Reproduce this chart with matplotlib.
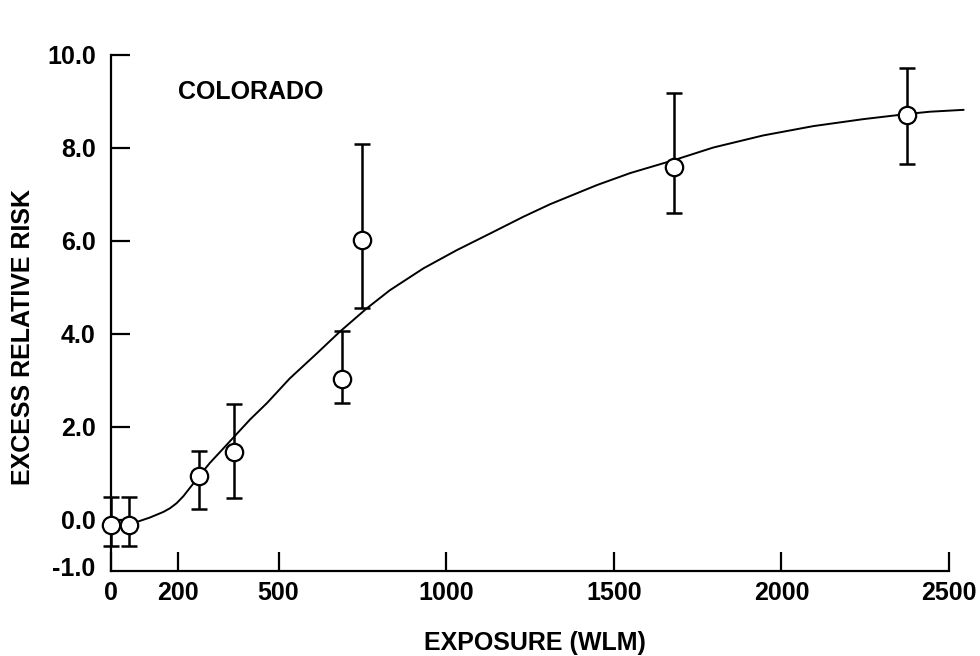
"""Excess relative risk vs cumulative exposure, Colorado miners."""

import matplotlib

matplotlib.use("Agg")
import matplotlib.pyplot as plt

plt.rcParams["font.family"] = ["Liberation Sans", "DejaVu Sans"]
plt.rcParams["font.weight"] = "bold"

# observed points (WLM, ERR) with error bar limits
exposure = [0, 55, 263, 367, 688, 750, 1680, 2375]
err = [-0.10, -0.10, 0.94, 1.45, 3.02, 6.03, 7.58, 8.71]
err_hi = [0.49, 0.49, 1.48, 2.49, 4.06, 8.08, 9.19, 9.72]
err_lo = [-0.56, -0.56, 0.24, 0.47, 2.52, 4.56, 6.61, 7.66]

# fitted curve
fit_x = [0, 40, 77, 116, 156, 176, 196, 216, 241, 263, 295, 335, 365, 415,
         465, 533, 614, 683, 763, 832, 932, 1031, 1131, 1230, 1310, 1449,
         1549, 1680, 1797, 1946, 2095, 2244, 2374, 2443, 2543]
fit_y = [-0.12, -0.10, -0.045, 0.05, 0.17, 0.25, 0.36, 0.51, 0.74, 0.945,
         1.225, 1.535, 1.77, 2.16, 2.51, 3.04, 3.58, 4.05, 4.55, 4.94, 5.41,
         5.80, 6.16, 6.52, 6.79, 7.20, 7.46, 7.74, 8.01, 8.27, 8.47, 8.62,
         8.73, 8.78, 8.82]

xticks = [0, 200, 500, 1000, 1500, 2000, 2500]
yticks = [-1.0, 0.0, 2.0, 4.0, 6.0, 8.0, 10.0]

W, H = 980, 656
fig = plt.figure(figsize=(W / 100, H / 100), dpi=100)
ax = fig.add_axes([111 / W, 85 / H, 838 / W, 516 / H])
ax.set_xlim(0, 2500)
ax.set_ylim(-1.1, 10)

ax.plot(fit_x, fit_y, color="black", lw=1.4, clip_on=False, zorder=2)

yerr = [[e - lo for e, lo in zip(err, err_lo)],
        [hi - e for e, hi in zip(err, err_hi)]]
ax.errorbar(exposure, err, yerr=yerr, fmt="none", ecolor="black",
            elinewidth=1.8, capsize=5.5, capthick=1.8, clip_on=False, zorder=3)
ax.plot(exposure, err, "o", ms=12.5, mfc="white", mec="black", mew=1.6,
        clip_on=False, zorder=4)

for side in ("top", "right"):
    ax.spines[side].set_visible(False)
for side in ("left", "bottom"):
    ax.spines[side].set_linewidth(1.6)

ax.set_xticks(xticks)
ax.set_xticklabels([str(t) for t in xticks])
ax.set_yticks(yticks)
ax.set_yticklabels([f"{t:.1f}" for t in yticks])
ax.tick_params(direction="in", length=14, width=1.6, labelsize=18)
ax.tick_params(axis="y", pad=11)
ax.tick_params(axis="x", pad=7)
# the -1.0 tick sits on the x axis line, so only its label shows
ax.yaxis.get_major_ticks()[0].tick1line.set_visible(False)

fig.text(535 / W, 1 - 643 / H, "EXPOSURE (WLM)", fontsize=18,
         fontweight="bold", ha="center", va="center")
fig.text(23 / W, 1 - 337 / H, "EXCESS RELATIVE RISK", fontsize=18,
         fontweight="bold", ha="center", va="center", rotation=90)
ax.text(200, 9.2, "COLORADO", fontsize=18, fontweight="bold", va="center")

fig.savefig("out.png", dpi=100)
